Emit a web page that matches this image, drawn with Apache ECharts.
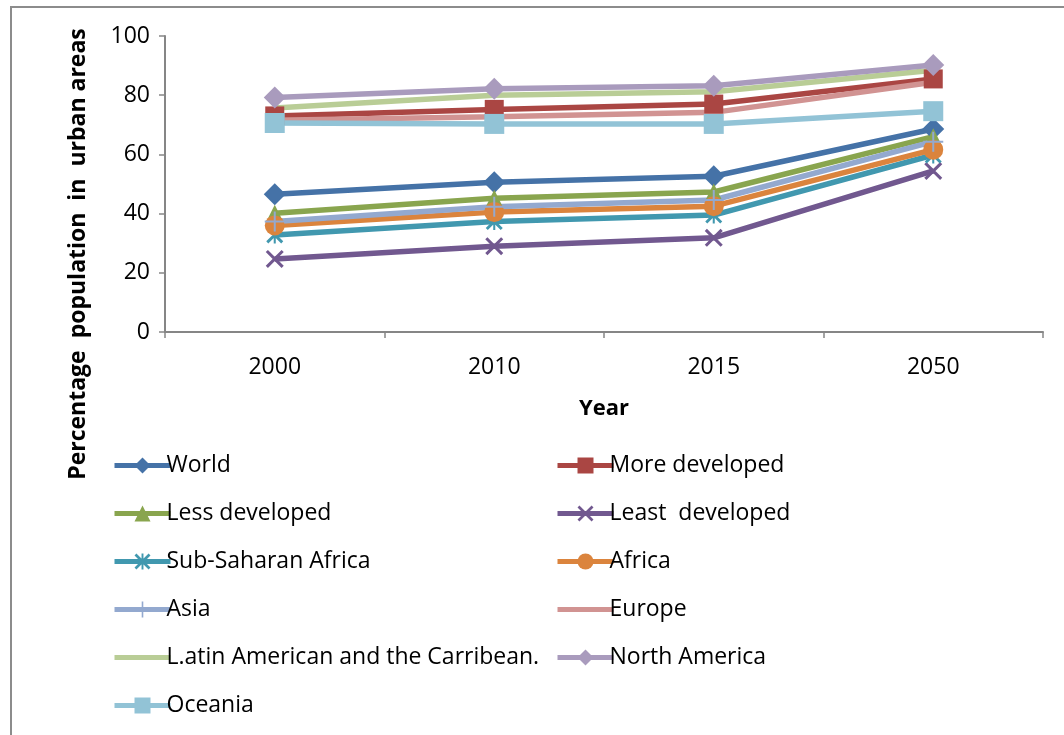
<!DOCTYPE html>
<html>
<head>
<meta charset="utf-8">
<title>Percentage population in urban areas</title>
<script src="https://cdn.jsdelivr.net/npm/echarts@6/dist/echarts.min.js"></script>
<style>
  html, body { margin: 0; padding: 0; background: #ffffff; }
  #chart { width: 1064px; height: 735px; }
</style>
</head>
<body>
<div id="chart"></div>
<script>
// Share of population living in urban areas (%), by region
const years = ['2000', '2010', '2015', '2050'];

const world            = [46.5, 50.6, 52.6, 68.6];
const moreDeveloped    = [73.0, 75.2, 77.0, 85.5];
const lessDeveloped    = [40.1, 45.2, 47.3, 66.0];
const leastDeveloped   = [24.7, 29.0, 31.8, 54.4];
const subSaharanAfrica = [32.8, 37.3, 39.5, 59.8];
const africa           = [36.0, 40.5, 42.5, 61.6];
const asia             = [37.3, 42.3, 44.6, 64.3];
const europe           = [71.5, 72.7, 74.2, 84.4];
const latinAmerica     = [75.7, 80.0, 81.2, 88.4];
const northAmerica     = [79.2, 82.2, 83.2, 90.2];
const oceania          = [70.6, 70.3, 70.3, 74.6];

const yTicks = [0, 20, 40, 60, 80, 100];

const FONT = '"Open Sans", "DejaVu Sans", sans-serif';
const AXIS_GREY = '#868686';

// Thin-stroke marker shapes built from filled bars
const SYM_X = 'path://M0,1.2L1.2,0L10,8.8L8.8,10Z M8.8,0L10,1.2L1.2,10L0,8.8Z';
const SYM_STAR = 'path://M0,1.2L1.2,0L10,8.8L8.8,10Z M8.8,0L10,1.2L1.2,10L0,8.8Z M4.4,0L5.6,0L5.6,10L4.4,10Z';
const SYM_PLUS = 'path://M0,4.5L10,4.5L10,5.5L0,5.5Z M4.5,0L5.5,0L5.5,10L4.5,10Z';
// Plain bar used as the legend key of the marker-less series
const LINE_ONLY_ICON = 'path://M0,0L56,0L56,5L0,5Z';

function line(name, data, color, symbol, size) {
  return {
    name: name,
    type: 'line',
    data: data,
    symbol: symbol || 'none',
    symbolSize: size || 0,
    showSymbol: !!symbol,
    lineStyle: { color: color, width: 5.5 },
    itemStyle: { color: color },
    emphasis: { disabled: true },
    animation: false
  };
}

const series = [
  line('World', world, '#4572A7', 'diamond', 22),
  line('More developed', moreDeveloped, '#AA4643', 'rect', 19),
  line('Less developed', lessDeveloped, '#89A54E', 'triangle', 17),
  line('Least  developed', leastDeveloped, '#71588F', SYM_X, 18),
  line('Sub-Saharan Africa', subSaharanAfrica, '#4198AF', SYM_STAR, 17),
  line('Africa', africa, '#DB843D', 'circle', 20),
  line('Asia', asia, '#93A9CF', SYM_PLUS, 20),
  line('Europe', europe, '#D19392'),
  line('L.atin American and the Carribean.', latinAmerica, '#B9CD96'),
  line('North America', northAmerica, '#A99BBD', 'diamond', 22),
  line('Oceania', oceania, '#92C3D6', 'rect', 20)
];

const leftColumn = ['World', 'Less developed', 'Sub-Saharan Africa', 'Asia',
                    'L.atin American and the Carribean.', 'Oceania'];
const rightColumn = ['More developed', 'Least  developed', 'Africa', 'Europe', 'North America'];
const lineOnly = ['Europe', 'L.atin American and the Carribean.'];

function legendColumn(names, left) {
  return {
    data: names.map(n => lineOnly.includes(n) ? { name: n, icon: LINE_ONLY_ICON } : { name: n }),
    orient: 'vertical',
    left: left,
    top: 449,
    height: 300,
    itemWidth: 56,
    itemHeight: 20,
    itemGap: 25,
    selectedMode: false,
    lineStyle: { width: 5 },
    textStyle: {
      fontFamily: FONT, fontSize: 23, color: '#000000',
      padding: [0, 0, 0, -9]
    }
  };
}

const chart = echarts.init(document.getElementById('chart'), null, { renderer: 'canvas' });

chart.setOption({
  backgroundColor: '#ffffff',
  animation: false,
  grid: { left: 165, right: 21, top: 36, bottom: 403, containLabel: false },
  graphic: [
    {
      type: 'rect',
      shape: { x: 11, y: 7, width: 1200, height: 900 },
      style: { fill: 'none', stroke: '#8c8c8c', lineWidth: 2 },
      silent: true
    },
    {
      type: 'text',
      x: 78,
      y: 254,
      rotation: Math.PI / 2,
      style: {
        text: 'Percentage  population  in  urban areas',
        font: 'bold 23px ' + FONT,
        fill: '#000000',
        align: 'center',
        verticalAlign: 'middle'
      },
      silent: true
    }
  ],
  legend: [legendColumn(leftColumn, 107), legendColumn(rightColumn, 550)],
  xAxis: {
    type: 'category',
    data: years,
    boundaryGap: true,
    name: 'Year',
    nameLocation: 'middle',
    nameGap: 66,
    nameTextStyle: { fontFamily: FONT, fontSize: 22, fontWeight: 'bold', color: '#000000' },
    axisLine: { lineStyle: { color: AXIS_GREY, width: 2 } },
    axisTick: { show: true, alignWithLabel: false, length: 6, lineStyle: { color: AXIS_GREY, width: 1.5 } },
    axisLabel: { fontFamily: FONT, fontSize: 23, color: '#000000', margin: 24 },
    splitLine: { show: false }
  },
  yAxis: {
    type: 'value',
    min: yTicks[0],
    max: yTicks[yTicks.length - 1],
    interval: yTicks[1] - yTicks[0],
    axisLine: { show: true, lineStyle: { color: AXIS_GREY, width: 2 } },
    axisTick: { show: true, length: 6, lineStyle: { color: AXIS_GREY, width: 1.5 } },
    axisLabel: { fontFamily: FONT, fontSize: 23, color: '#000000', margin: 15 },
    splitLine: { show: false }
  },
  series: series
});
</script>
</body>
</html>
